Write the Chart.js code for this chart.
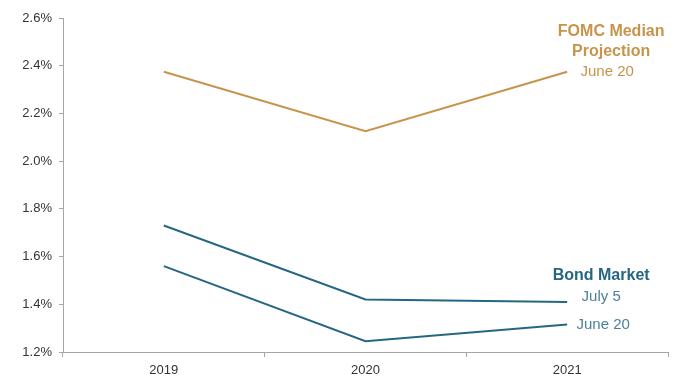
<!DOCTYPE html>
<html>
<head>
<meta charset="utf-8">
<script src="https://cdn.jsdelivr.net/npm/chart.js@4.4.1/dist/chart.umd.min.js"></script>
<style>
  html, body { margin: 0; padding: 0; background: #fff; }
  #wrap { width: 680px; height: 377px; position: relative; }
</style>
</head>
<body>
<div id="wrap"><canvas id="c" width="680" height="377"></canvas></div>
<script>
// Year-end policy rate paths (%)
const years = ['2019', '2020', '2021'];
const fomcJune20 = [2.375, 2.125, 2.375];
const bondJuly5 = [1.73, 1.42, 1.41];
const bondJune20 = [1.56, 1.245, 1.315];
const yTicks = [1.2, 1.4, 1.6, 1.8, 2.0, 2.2, 2.4, 2.6];

const GOLD = '#C6944A';
const TEAL = '#256782';
const TEAL_LIGHT = '#4C8098';
const FONT = '"Liberation Sans", Arial, sans-serif';

// Series labels drawn to the right of the last point
const endLabels = {
  id: 'endLabels',
  afterDatasetsDraw(chart) {
    const { ctx, scales: { x, y } } = chart;
    const xEnd = x.getPixelForValue(2);
    ctx.save();
    ctx.textAlign = 'center';
    ctx.textBaseline = 'middle';

    const fy = y.getPixelForValue(fomcJune20[2]);
    ctx.fillStyle = GOLD;
    ctx.font = 'bold 16px ' + FONT;
    ctx.fillText('FOMC Median', xEnd + 44, fy - 40);
    ctx.fillText('Projection', xEnd + 44, fy - 20);
    ctx.font = '15px ' + FONT;
    ctx.fillText('June 20', xEnd + 40, fy);

    const by = y.getPixelForValue(bondJuly5[2]);
    ctx.fillStyle = TEAL;
    ctx.font = 'bold 16px ' + FONT;
    ctx.fillText('Bond Market', xEnd + 34, by - 26);
    ctx.fillStyle = TEAL_LIGHT;
    ctx.font = '15px ' + FONT;
    ctx.fillText('July 5', xEnd + 34, by - 5);
    const jy = y.getPixelForValue(bondJune20[2]);
    ctx.fillText('June 20', xEnd + 36, jy);
    ctx.restore();
  }
};

new Chart(document.getElementById('c'), {
  type: 'line',
  data: {
    labels: years,
    datasets: [
      { data: fomcJune20, borderColor: GOLD },
      { data: bondJuly5, borderColor: TEAL },
      { data: bondJune20, borderColor: TEAL }
    ]
  },
  options: {
    responsive: false,
    animation: false,
    devicePixelRatio: 1,
    layout: { padding: { top: 18, right: 12, left: 0, bottom: 0 } },
    elements: {
      line: { borderWidth: 2, tension: 0, fill: false },
      point: { radius: 0, hoverRadius: 0 }
    },
    plugins: {
      legend: { display: false },
      tooltip: { enabled: false }
    },
    scales: {
      x: {
        type: 'category',
        offset: true,
        grid: {
          offset: true,
          drawOnChartArea: false,
          drawTicks: true,
          tickLength: 5,
          color: '#A6A6A6'
        },
        border: { color: '#A6A6A6', width: 1 },
        ticks: { color: '#333', font: { family: FONT, size: 13 }, padding: 6 },
        afterFit(scale) { scale.height = 25; }
      },
      y: {
        min: 1.2,
        max: 2.6,
        afterBuildTicks(scale) { scale.ticks = yTicks.map(v => ({ value: v })); },
        grid: {
          drawOnChartArea: false,
          drawTicks: true,
          tickLength: 4,
          color: '#A6A6A6'
        },
        border: { color: '#A6A6A6', width: 1 },
        ticks: {
          color: '#333',
          font: { family: FONT, size: 13 },
          padding: 7,
          callback: v => Number(v).toFixed(1) + '%'
        },
        afterFit(scale) { scale.width = 63; }
      }
    }
  },
  plugins: [endLabels]
});
</script>
</body>
</html>
